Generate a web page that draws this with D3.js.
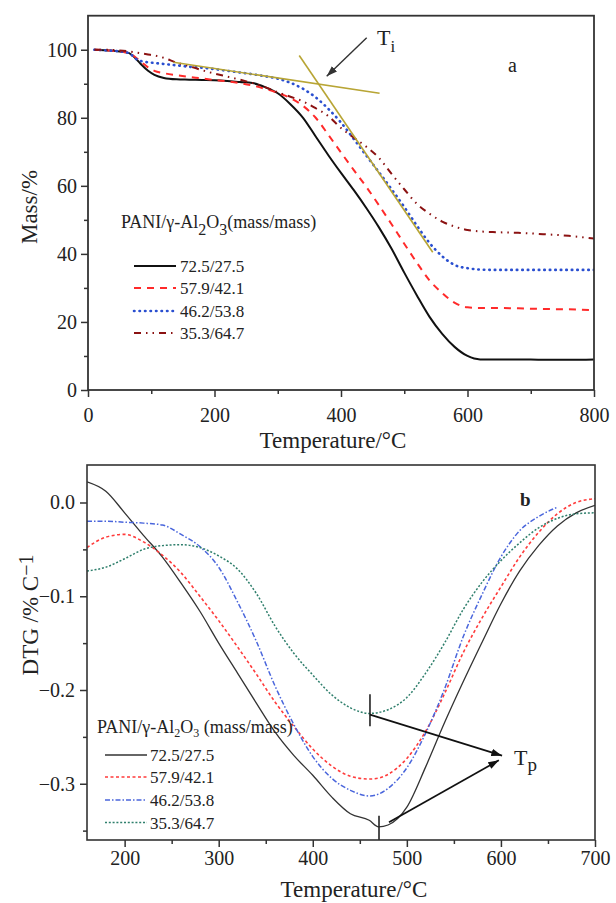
<!DOCTYPE html>
<html><head><meta charset="utf-8">
<script src="https://cdn.jsdelivr.net/npm/d3@7"></script>
<style>
body{margin:0;background:#fff}
svg{display:block}
text{font-family:"Liberation Serif","Times New Roman",serif;fill:#222}
</style>
</head><body>
<svg id="c" width="616" height="903"></svg>
<script>
// ---------- DATA ----------
const seriesLabels = ["72.5/27.5","57.9/42.1","46.2/53.8","35.3/64.7"];

// Panel a: TG curves (Mass/% vs Temperature/°C)
const tgTemps = [10,30,50,65,75,85,95,105,120,140,160,180,200,220,240,260,280,300,320,340,360,380,400,420,440,460,480,500,520,540,560,580,600,620,640,680,720,760,800];
const massA = [100,99.8,99.5,99.0,97.5,95.5,93.8,92.6,91.7,91.3,91.2,91.1,91.0,90.8,90.5,90.2,89.0,87.2,84.0,80.0,74.5,69.0,63.8,58.8,53.5,47.8,41.5,34.5,27.8,21.5,16.5,12.6,10.0,9.0,9.0,9.0,8.9,8.9,9.0];
const massB = [100,99.8,99.5,99.0,97.8,96.3,94.8,93.8,93.1,92.5,92.0,91.6,91.1,90.7,90.2,89.5,88.5,87.3,85.8,83.5,80.0,75.0,69.8,64.7,59.7,54.3,48.7,43.0,37.4,32.2,28.5,25.6,24.3,24.1,24.1,24.0,23.8,23.7,23.5];
const massC = [100,99.8,99.5,99.0,97.4,96.6,96.3,96.1,95.8,95.4,95.0,94.7,94.3,93.8,93.3,92.8,92.2,91.5,90.3,88.5,86.0,82.6,78.6,73.8,68.9,64.0,59.0,53.8,48.3,43.2,39.3,36.7,35.8,35.4,35.3,35.3,35.3,35.3,35.3];
const massD = [100,100,99.8,99.5,99.2,98.9,98.6,98.3,97.6,96.2,95.2,94.0,93.0,92.1,91.2,90.2,89.0,87.5,86.2,84.8,82.8,80.5,77.0,74.2,71.5,68.2,63.5,59.0,54.7,51.8,49.5,48.0,47.0,46.6,46.4,46.2,45.8,45.3,44.5];
const tgXTicks = [0,200,400,600,800];
const tgXMinor = [100,300,500,700];
const tgYTicks = [0,20,40,60,80,100];
const tgYMinor = [10,30,50,70,90];
// tangent construction lines and Ti arrow (data units)
const tangentLines = [[[135,96.3],[461,87.2]],[[334,98.3],[545,40.5]]];
const tiArrow = [[440.6,103.5],[377.4,92.2]];

// Panel b: DTG curves
const dtgTemps = [160,180,200,220,240,260,280,300,320,340,360,380,400,420,440,460,470,480,500,520,540,560,580,600,620,640,660,680,700];
const dtgA = [0.022,0.012,-0.011,-0.035,-0.058,-0.086,-0.116,-0.150,-0.182,-0.214,-0.245,-0.270,-0.291,-0.314,-0.332,-0.339,-0.346,-0.344,-0.325,-0.282,-0.235,-0.191,-0.149,-0.108,-0.073,-0.046,-0.025,-0.011,-0.003];
const dtgB = [-0.048,-0.037,-0.034,-0.042,-0.056,-0.075,-0.100,-0.126,-0.154,-0.183,-0.213,-0.239,-0.263,-0.281,-0.292,-0.295,-0.294,-0.290,-0.273,-0.244,-0.204,-0.160,-0.123,-0.090,-0.058,-0.032,-0.012,0.000,0.004];
const dtgC = [-0.020,-0.020,-0.021,-0.022,-0.024,-0.034,-0.047,-0.069,-0.106,-0.148,-0.196,-0.237,-0.271,-0.294,-0.307,-0.313,-0.311,-0.305,-0.283,-0.246,-0.199,-0.143,-0.098,-0.058,-0.030,-0.015,-0.005,null,null];
const dtgD = [-0.073,-0.069,-0.060,-0.050,-0.046,-0.045,-0.048,-0.057,-0.071,-0.097,-0.132,-0.161,-0.184,-0.205,-0.219,-0.225,-0.224,-0.221,-0.208,-0.182,-0.150,-0.114,-0.085,-0.062,-0.043,-0.027,-0.017,-0.012,-0.011];
const dtgXTicks = [200,300,400,500,600,700];
const dtgXMinor = [250,350,450,550,650];
const dtgYTicks = [0,-0.1,-0.2,-0.3];
const dtgYMinor = [-0.05,-0.15,-0.25,-0.35];
// Tp markers: [T, y1, y2] and arrows
const tpMarks = [[460.8,-0.2046,-0.2386],[470.4,-0.334,-0.36]];
const tpArrows = [[[460.8,-0.2263],[601.2,-0.270]],[[481,-0.341],[597.8,-0.275]]];

// ---------- STYLES ----------
const topStyles = [
  {color:"#111111", width:2.0, dash:null, cap:"butt"},
  {color:"#ff2a2a", width:2.0, dash:"7,6", cap:"butt"},
  {color:"#2a4fd0", width:2.6, dash:"0.5,5", cap:"round"},
  {color:"#8b1212", width:2.0, dash:"7,5,1.5,5,1.5,5", cap:"butt"}
];
const botStyles = [
  {color:"#333333", width:1.3, dash:null, cap:"butt"},
  {color:"#ff3b3b", width:1.6, dash:"3,2.5", cap:"butt"},
  {color:"#4a66dc", width:1.5, dash:"5,2,1.5,2", cap:"butt"},
  {color:"#2f7f6c", width:1.5, dash:"2,1.8", cap:"butt"}
];

const svg = d3.select("#c");
const defs = svg.append("defs");
function arrowMarker(id, color){
  defs.append("marker").attr("id",id).attr("viewBox","0 0 10 7")
    .attr("refX",10).attr("refY",3.5).attr("markerWidth",11).attr("markerHeight",7.5)
    .attr("markerUnits","userSpaceOnUse").attr("orient","auto")
    .append("path").attr("d","M0,0 L10,3.5 L0,7 Z").attr("fill",color);
}
arrowMarker("arrA","#333");
arrowMarker("arrB","#111");

function styleAxis(g, fontSize){
  g.select(".domain").remove();
  g.selectAll(".tick line").attr("stroke","#333").attr("stroke-width",1.5);
  g.selectAll(".tick text").attr("font-size",fontSize).attr("fill","#222")
    .attr("font-family",'"Liberation Serif","Times New Roman",serif');
}

// ================= PANEL A =================
const xT = d3.scaleLinear().domain([0,800]).range([88,594]);
const yT = d3.scaleLinear().domain([0,110]).range([390,15.7]);

defs.append("clipPath").attr("id","clipA").append("rect")
  .attr("x",xT(0)).attr("y",yT(110)).attr("width",xT(800)-xT(0)).attr("height",yT(0)-yT(110));

const gA = svg.append("g");
gA.append("g").attr("transform",`translate(0,${yT(0)})`)
  .call(d3.axisBottom(xT).tickValues(tgXTicks).tickSize(7).tickPadding(11).tickFormat(d3.format("d")))
  .call(g=>styleAxis(g,"20px"));
gA.append("g").attr("transform",`translate(0,${yT(0)})`)
  .call(d3.axisBottom(xT).tickValues(tgXMinor).tickSize(4).tickFormat(""))
  .call(g=>styleAxis(g,"20px"));
gA.append("g").attr("transform",`translate(${xT(0)},0)`)
  .call(d3.axisLeft(yT).tickValues(tgYTicks).tickSize(7).tickPadding(4).tickFormat(d3.format("d")))
  .call(g=>styleAxis(g,"20px"));
gA.append("g").attr("transform",`translate(${xT(0)},0)`)
  .call(d3.axisLeft(yT).tickValues(tgYMinor).tickSize(4).tickFormat(""))
  .call(g=>styleAxis(g,"20px"));

const lineA = d3.line().x(d=>xT(d[0])).y(d=>yT(d[1])).curve(d3.curveMonotoneX);
const tgSeries = [massA,massB,massC,massD];
const curvesA = gA.append("g").attr("clip-path","url(#clipA)");
tgSeries.forEach((vals,i)=>{
  const pts = tgTemps.map((t,j)=>[t,vals[j]]);
  const s = topStyles[i];
  curvesA.append("path").attr("d",lineA(pts)).attr("fill","none")
    .attr("stroke",s.color).attr("stroke-width",s.width)
    .attr("stroke-dasharray",s.dash).attr("stroke-linecap",s.cap);
});
// tangent lines
tangentLines.forEach(l=>{
  curvesA.append("path").attr("d",d3.line().x(d=>xT(d[0])).y(d=>yT(d[1]))(l))
    .attr("stroke","#b8a535").attr("stroke-width",1.6).attr("fill","none");
});
// Ti arrow
gA.append("line").attr("x1",xT(tiArrow[0][0])).attr("y1",yT(tiArrow[0][1]))
  .attr("x2",xT(tiArrow[1][0])).attr("y2",yT(tiArrow[1][1]))
  .attr("stroke","#333").attr("stroke-width",1.4).attr("marker-end","url(#arrA)");
const ti = gA.append("text").attr("x",377).attr("y",45).attr("font-size","22px");
ti.append("tspan").text("T");
ti.append("tspan").attr("dy",7).attr("font-size","17px").text("i");
gA.append("text").attr("x",508).attr("y",72).attr("font-size","20px").text("a");

// frame
gA.append("rect").attr("x",xT(0)).attr("y",yT(110)).attr("width",xT(800)-xT(0)).attr("height",yT(0)-yT(110))
  .attr("fill","none").attr("stroke","#333").attr("stroke-width",1.8);

// legend A
const legA = gA.append("g");
const lt = legA.append("text").attr("x",121).attr("y",228).attr("font-size","18px");
lt.append("tspan").text("PANI/γ-Al");
lt.append("tspan").attr("dy",7).attr("font-size","16px").text("2");
lt.append("tspan").attr("dy",-7).text("O");
lt.append("tspan").attr("dy",7).attr("font-size","16px").text("3");
lt.append("tspan").attr("dy",-7).text("(mass/mass)");
const rowsA = [266,288,311,333];
seriesLabels.forEach((lab,i)=>{
  const s = topStyles[i];
  legA.append("line").attr("x1",134).attr("x2",176).attr("y1",rowsA[i]).attr("y2",rowsA[i])
    .attr("stroke",s.color).attr("stroke-width",s.width).attr("stroke-dasharray",s.dash).attr("stroke-linecap",s.cap);
  legA.append("text").attr("x",180).attr("y",rowsA[i]+6).attr("font-size","17px").text(lab);
});

// axis titles A
gA.append("text").attr("x",333).attr("y",448).attr("text-anchor","middle").attr("font-size","23px").text("Temperature/°C");
gA.append("text").attr("transform","translate(37,207) rotate(-90)").attr("text-anchor","middle").attr("font-size","23px").text("Mass/%");

// ================= PANEL B =================
const xB = d3.scaleLinear().domain([160,700]).range([87,595]);
const yB = d3.scaleLinear().domain([-0.36,0.04]).range([840,465]);

defs.append("clipPath").attr("id","clipB").append("rect")
  .attr("x",xB(160)).attr("y",yB(0.04)).attr("width",xB(700)-xB(160)).attr("height",yB(-0.36)-yB(0.04));

const gB = svg.append("g");
gB.append("g").attr("transform",`translate(0,${yB(-0.36)})`)
  .call(d3.axisBottom(xB).tickValues(dtgXTicks).tickSize(7).tickPadding(4).tickFormat(d3.format("d")))
  .call(g=>styleAxis(g,"20px"));
gB.append("g").attr("transform",`translate(0,${yB(-0.36)})`)
  .call(d3.axisBottom(xB).tickValues(dtgXMinor).tickSize(4).tickFormat(""))
  .call(g=>styleAxis(g,"20px"));
gB.append("g").attr("transform",`translate(${xB(160)},0)`)
  .call(d3.axisLeft(yB).tickValues(dtgYTicks).tickSize(7).tickPadding(5).tickFormat(d3.format(".1f")))
  .call(g=>styleAxis(g,"20px"));
gB.append("g").attr("transform",`translate(${xB(160)},0)`)
  .call(d3.axisLeft(yB).tickValues(dtgYMinor).tickSize(4).tickFormat(""))
  .call(g=>styleAxis(g,"20px"));

const lineB = d3.line().defined(d=>d[1]!=null).x(d=>xB(d[0])).y(d=>yB(d[1])).curve(d3.curveMonotoneX);
const dtgSeries = [dtgA,dtgB,dtgC,dtgD];
const curvesB = gB.append("g").attr("clip-path","url(#clipB)");
dtgSeries.forEach((vals,i)=>{
  const pts = dtgTemps.map((t,j)=>[t,vals[j]]);
  const s = botStyles[i];
  curvesB.append("path").attr("d",lineB(pts)).attr("fill","none")
    .attr("stroke",s.color).attr("stroke-width",s.width)
    .attr("stroke-dasharray",s.dash).attr("stroke-linecap",s.cap);
});
// Tp markers and arrows
tpMarks.forEach(m=>{
  gB.append("line").attr("x1",xB(m[0])).attr("x2",xB(m[0])).attr("y1",yB(m[1])).attr("y2",yB(m[2]))
    .attr("stroke","#222").attr("stroke-width",1.6);
});
tpArrows.forEach(a=>{
  gB.append("line").attr("x1",xB(a[0][0])).attr("y1",yB(a[0][1])).attr("x2",xB(a[1][0])).attr("y2",yB(a[1][1]))
    .attr("stroke","#111").attr("stroke-width",1.7).attr("marker-end","url(#arrB)");
});
const tp = gB.append("text").attr("x",514).attr("y",765).attr("font-size","22px");
tp.append("tspan").text("T");
tp.append("tspan").attr("dy",6).attr("font-size","19px").text("p");
gB.append("text").attr("x",520).attr("y",506).attr("font-size","19px").attr("font-weight","bold").text("b");

gB.append("rect").attr("x",xB(160)).attr("y",yB(0.04)).attr("width",xB(700)-xB(160)).attr("height",yB(-0.36)-yB(0.04))
  .attr("fill","none").attr("stroke","#333").attr("stroke-width",1.6);

// legend B
const legB = gB.append("g");
const bt = legB.append("text").attr("x",97).attr("y",733).attr("font-size","18px");
bt.append("tspan").text("PANI/γ-Al");
bt.append("tspan").attr("dy",4).attr("font-size","12px").text("2");
bt.append("tspan").attr("dy",-4).text("O");
bt.append("tspan").attr("dy",4).attr("font-size","12px").text("3");
bt.append("tspan").attr("dy",-4).text(" (mass/mass)");
const rowsB = [755,777,800,822.5];
seriesLabels.forEach((lab,i)=>{
  const s = botStyles[i];
  legB.append("line").attr("x1",105).attr("x2",147).attr("y1",rowsB[i]).attr("y2",rowsB[i])
    .attr("stroke",s.color).attr("stroke-width",s.width).attr("stroke-dasharray",s.dash).attr("stroke-linecap",s.cap);
  legB.append("text").attr("x",150).attr("y",rowsB[i]+6).attr("font-size","17px").text(lab);
});

// axis titles B
gB.append("text").attr("x",354).attr("y",897).attr("text-anchor","middle").attr("font-size","23px").text("Temperature/°C");
const yt = gB.append("text").attr("transform","translate(38,615) rotate(-90)").attr("text-anchor","middle").attr("font-size","23px");
yt.append("tspan").text("DTG /% C");
yt.append("tspan").attr("dy",-5).attr("font-size","20px").text("−1");
</script>
</body></html>
